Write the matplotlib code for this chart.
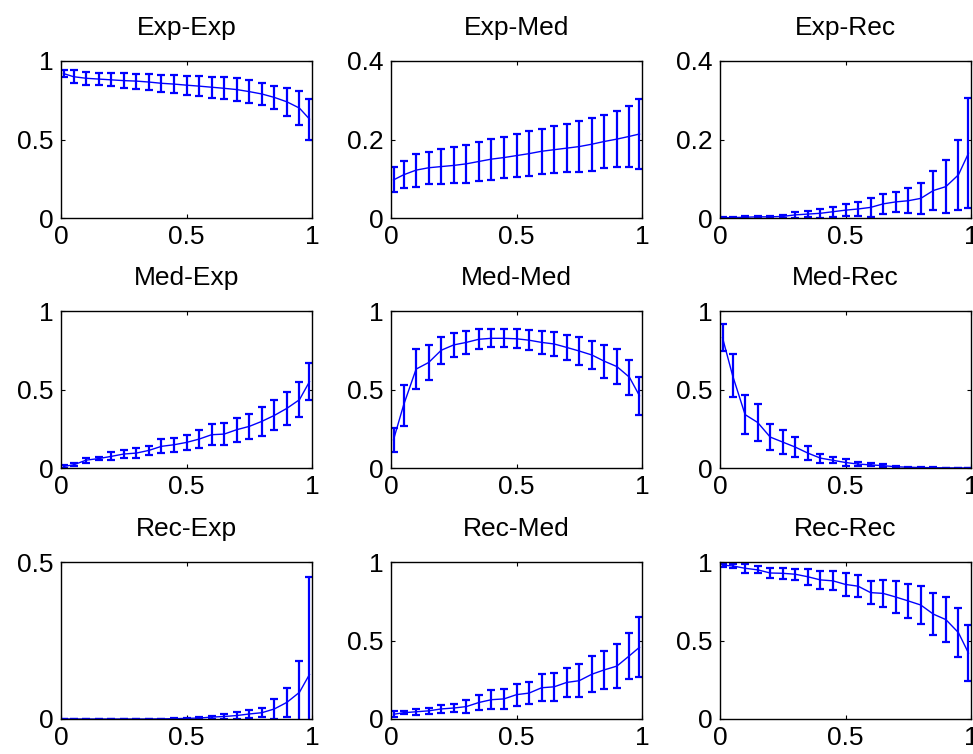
import numpy as np
import matplotlib
matplotlib.use("Agg")
import matplotlib.pyplot as plt

plt.rcParams['font.family'] = ['Liberation Sans', 'DejaVu Sans']

x = [0.01, 0.05, 0.10, 0.15, 0.20, 0.25, 0.30, 0.35, 0.40, 0.45, 0.50,
     0.55, 0.60, 0.65, 0.70, 0.75, 0.80, 0.85, 0.90, 0.95, 0.99]

titles = ["Exp-Exp", "Exp-Med", "Exp-Rec",
          "Med-Exp", "Med-Med", "Med-Rec",
          "Rec-Exp", "Rec-Med", "Rec-Rec"]

exp_exp_mean = [0.92, 0.90, 0.89, 0.885, 0.88, 0.875, 0.872, 0.866, 0.858, 0.853, 0.846,
                0.84, 0.833, 0.826, 0.818, 0.805, 0.79, 0.768, 0.74, 0.70, 0.63]
exp_exp_err = [0.025, 0.04, 0.04, 0.04, 0.042, 0.046, 0.048, 0.05, 0.053, 0.055, 0.06,
               0.062, 0.068, 0.07, 0.071, 0.074, 0.073, 0.072, 0.09, 0.11, 0.13]

exp_med_mean = [0.097, 0.11, 0.122, 0.128, 0.131, 0.134, 0.138, 0.144, 0.15, 0.154, 0.159,
                0.164, 0.17, 0.174, 0.178, 0.182, 0.188, 0.195, 0.201, 0.208, 0.214]
exp_med_err = [0.032, 0.034, 0.042, 0.041, 0.045, 0.046, 0.048, 0.049, 0.052, 0.053, 0.055,
               0.057, 0.058, 0.06, 0.062, 0.064, 0.067, 0.068, 0.071, 0.077, 0.088]

exp_rec_mean = [0.001, 0.001, 0.002, 0.003, 0.003, 0.004, 0.008, 0.01, 0.012, 0.016, 0.02,
                0.023, 0.027, 0.036, 0.041, 0.044, 0.05, 0.07, 0.08, 0.11, 0.165]
exp_rec_err = [0.001, 0.001, 0.003, 0.003, 0.003, 0.004, 0.007, 0.008, 0.011, 0.013, 0.015,
               0.018, 0.025, 0.025, 0.025, 0.032, 0.04, 0.05, 0.067, 0.09, 0.14]

med_exp_mean = [0.01, 0.02, 0.05, 0.06, 0.074, 0.089, 0.095, 0.112, 0.138, 0.148, 0.163,
                0.184, 0.212, 0.216, 0.244, 0.265, 0.297, 0.335, 0.38, 0.435, 0.55]
med_exp_err = [0.01, 0.01, 0.015, 0.01, 0.025, 0.025, 0.03, 0.03, 0.045, 0.045, 0.05,
               0.055, 0.068, 0.07, 0.077, 0.08, 0.09, 0.095, 0.105, 0.112, 0.12]

med_med_mean = [0.18, 0.40, 0.63, 0.672, 0.75, 0.784, 0.80, 0.82, 0.826, 0.826, 0.823,
                0.814, 0.80, 0.79, 0.768, 0.745, 0.72, 0.68, 0.646, 0.578, 0.46]
med_med_err = [0.075, 0.13, 0.125, 0.11, 0.085, 0.074, 0.071, 0.064, 0.057, 0.057, 0.06,
               0.062, 0.074, 0.074, 0.08, 0.088, 0.09, 0.106, 0.11, 0.113, 0.12]

med_rec_mean = [0.83, 0.59, 0.34, 0.29, 0.197, 0.165, 0.133, 0.095, 0.063, 0.049, 0.035,
                0.025, 0.02, 0.015, 0.008, 0.005, 0.003, 0.002, 0.001, 0.0005, 0.0]
med_rec_err = [0.085, 0.135, 0.123, 0.12, 0.085, 0.075, 0.063, 0.047, 0.028, 0.02, 0.02,
               0.014, 0.01, 0.01, 0.006, 0.004, 0.003, 0.002, 0.001, 0.0005, 0.0]

rec_exp_mean = [0.0, 0.0, 0.0, 0.0, 0.0, 0.0, 0.0, 0.0, 0.0005, 0.001, 0.002,
                0.003, 0.006, 0.008, 0.011, 0.016, 0.02, 0.032, 0.053, 0.085, 0.142]
rec_exp_err = [0.0, 0.0, 0.0, 0.0, 0.0, 0.0, 0.0, 0.0, 0.0005, 0.001, 0.002,
               0.002, 0.005, 0.008, 0.01, 0.013, 0.015, 0.032, 0.046, 0.1, 0.31]

rec_med_mean = [0.03, 0.04, 0.046, 0.052, 0.064, 0.07, 0.079, 0.105, 0.123, 0.128, 0.155,
                0.165, 0.199, 0.205, 0.233, 0.244, 0.285, 0.313, 0.337, 0.403, 0.457]
rec_med_err = [0.02, 0.01, 0.018, 0.018, 0.028, 0.027, 0.043, 0.05, 0.059, 0.064, 0.07,
               0.07, 0.085, 0.088, 0.094, 0.105, 0.114, 0.121, 0.14, 0.146, 0.19]

rec_rec_mean = [0.98, 0.975, 0.96, 0.95, 0.93, 0.928, 0.922, 0.906, 0.886, 0.88, 0.857,
                0.846, 0.805, 0.80, 0.777, 0.752, 0.726, 0.668, 0.633, 0.55, 0.42]
rec_rec_err = [0.01, 0.014, 0.028, 0.022, 0.032, 0.034, 0.034, 0.051, 0.059, 0.06, 0.073,
               0.072, 0.072, 0.085, 0.1, 0.107, 0.122, 0.134, 0.142, 0.155, 0.176]

means = [exp_exp_mean, exp_med_mean, exp_rec_mean,
         med_exp_mean, med_med_mean, med_rec_mean,
         rec_exp_mean, rec_med_mean, rec_rec_mean]
errs = [exp_exp_err, exp_med_err, exp_rec_err,
        med_exp_err, med_med_err, med_rec_err,
        rec_exp_err, rec_med_err, rec_rec_err]

ylims = [1, 0.4, 0.4, 1, 1, 1, 0.5, 1, 1]
yticks = [[0, 0.5, 1], [0, 0.2, 0.4], [0, 0.2, 0.4],
          [0, 0.5, 1], [0, 0.5, 1], [0, 0.5, 1],
          [0, 0.5], [0, 0.5, 1], [0, 0.5, 1]]
xticks = [0, 0.5, 1]


def fmt(v):
    return "%g" % v


W, H = 973, 754
fig = plt.figure(figsize=(W / 100, H / 100), dpi=100)
col_left = [61, 391, 720]
row_top = [61, 311, 562]
aw, ah = 251, 157

for i in range(9):
    r, c = divmod(i, 3)
    ax = fig.add_axes([col_left[c] / W, 1 - (row_top[r] + ah) / H, aw / W, ah / H])
    ax.errorbar(x, means[i], yerr=errs[i], color='#0000FF', linewidth=1.0,
                elinewidth=1.6, capsize=2.9, capthick=1.6, clip_on=True)
    ax.set_xlim(0, 1)
    ax.set_ylim(0, ylims[i])
    ax.set_xticks(xticks)
    ax.set_xticklabels([fmt(v) for v in xticks])
    ax.set_yticks(yticks[i])
    ax.set_yticklabels([fmt(v) for v in yticks[i]])
    ax.tick_params(direction='in', length=3, width=0.8, top=True, right=True,
                   labelsize=19, colors='black')
    ax.tick_params(axis='y', pad=5.5)
    ax.tick_params(axis='x', pad=5)
    for sp in ax.spines.values():
        sp.set_linewidth(1.0)
        sp.set_color('black')
    ax.set_title(titles[i], fontsize=19, pad=18.7)

fig.savefig("out.png", dpi=100)
